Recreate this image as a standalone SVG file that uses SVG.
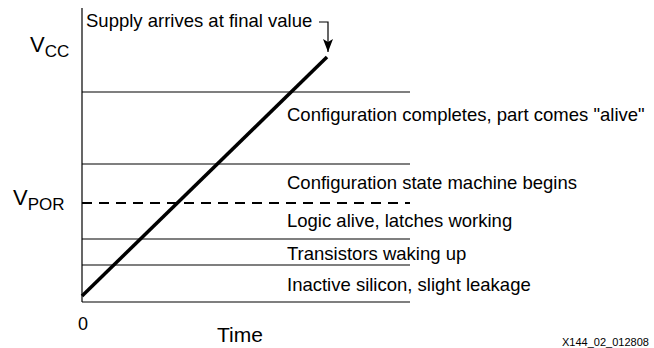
<svg xmlns="http://www.w3.org/2000/svg" width="654" height="348" viewBox="0 0 654 348">
<style>
text{font-family:"Liberation Sans",Arial,sans-serif;fill:#000}
.lbl{font-size:18.5px}
.thin{stroke:#000;stroke-width:1.2;fill:none}
</style>
<defs>
<marker id="ah" markerWidth="13" markerHeight="10" refX="13" refY="5" orient="auto" markerUnits="userSpaceOnUse" viewBox="0 0 13 10">
<path d="M0,0 L13,5 L0,10 L3,5 Z" fill="#000"/>
</marker>
</defs>
<rect width="654" height="348" fill="#fff"/>
<g id="axes">
<line class="thin" x1="82" y1="8" x2="82" y2="302"/>
<line class="thin" x1="82" y1="302" x2="410" y2="302"/>
</g>
<g id="levels">
<line class="thin" x1="82" y1="92" x2="410" y2="92"/>
<line class="thin" x1="82" y1="164" x2="410" y2="164"/>
<line stroke="#000" stroke-width="2" stroke-dasharray="10,7" x1="82" y1="203" x2="410" y2="203"/>
<line class="thin" x1="82" y1="239" x2="410" y2="239"/>
<line class="thin" x1="82" y1="265" x2="410" y2="265"/>
</g>
<g id="ramp">
<line stroke="#000" stroke-width="3.5" x1="82" y1="296" x2="327" y2="57"/>
</g>
<g id="connectors">
<polyline class="thin" points="319,22 328,22 328,52" marker-end="url(#ah)"/>
</g>
<g id="labels">
<text class="lbl" x="86" y="27">Supply arrives at final value</text>
<text x="30" y="52" font-size="22">V<tspan font-size="17" dy="5">CC</tspan></text>
<text x="13" y="205" font-size="22">V<tspan font-size="17" dy="5">POR</tspan></text>
<text class="lbl" x="287" y="121">Configuration completes, part comes "alive"</text>
<text class="lbl" x="287" y="189">Configuration state machine begins</text>
<text class="lbl" x="287" y="227">Logic alive, latches working</text>
<text class="lbl" x="287" y="260">Transistors waking up</text>
<text class="lbl" x="287" y="291">Inactive silicon, slight leakage</text>
<text x="78" y="330" font-size="18">0</text>
<text x="217" y="342" font-size="21">Time</text>
<text x="562" y="346" font-size="11">X144_02_012808</text>
</g>
</svg>
